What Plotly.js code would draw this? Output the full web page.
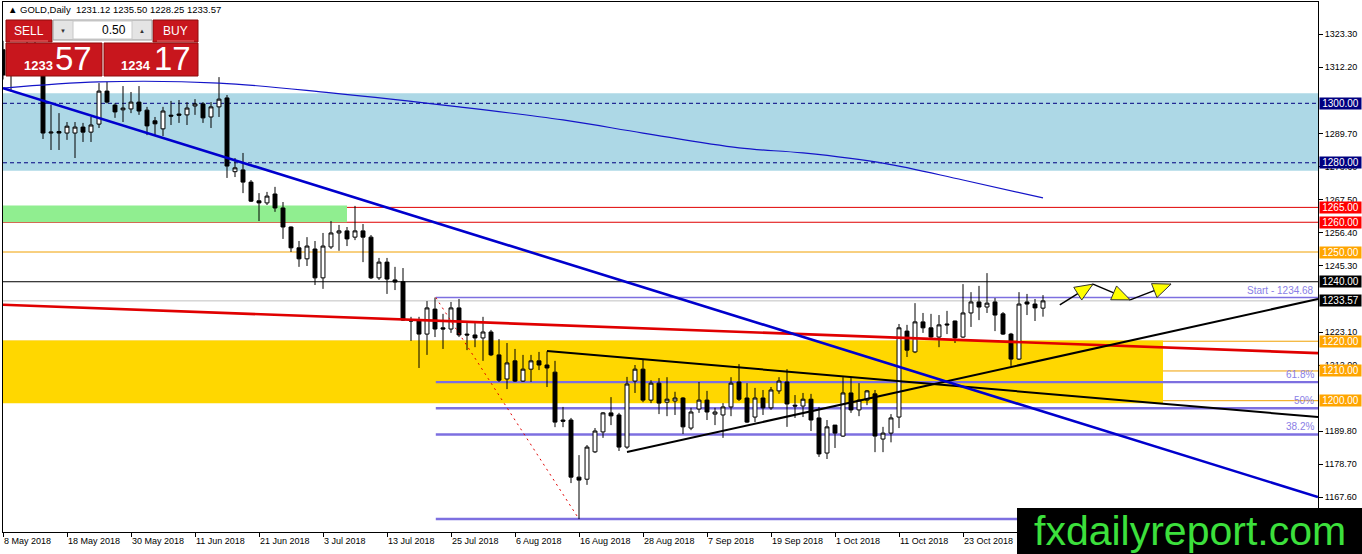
<!DOCTYPE html>
<html>
<head>
<meta charset="utf-8">
<script src="https://cdn.plot.ly/plotly-3.0.1.min.js"></script>
<style>
  html, body { margin: 0; padding: 0; background: #fff; }
  #chart { width: 1362px; height: 554px; }
</style>
</head>
<body>
<div id="chart"></div>
<script>
// GOLD daily, 8 May 2018 .. 6 Nov 2018 (bar index 0..130)
const openP = [1318,1309.5,1312,1315,1319,1313,1290,1290.5,1290,1290,1292,1290.3,1293,1304.1,1299.4,1297.8,1298.1,1300.4,1297.7,1294.1,
  1291.4,1296.0,1296.4,1296.1,1299.1,1299.8,1295.4,1298.8,1301.8,1277.0,1277.6,1273.5,1267.2,1266.5,1269.5,1264.8,1258.4,1251.4,1247.7,1251.0,
  1241.3,1251.7,1256.4,1257.1,1255.0,1257.1,1255.0,1241.3,1246.6,1240.6,1240.0,1227.1,1227.1,1222.4,1230.8,1224.5,1224.1,1231.2,1222.4,1222.1,
  1221.1,1223.1,1215.4,1207.3,1213.4,1206.6,1210.6,1213.4,1212.0,1209.6,1193.5,1193.5,1174.3,1173.6,1182.8,1189.5,1195.9,1195.2,1184.4,1206.6,
  1210.6,1200.2,1205.9,1199.5,1199.9,1200.9,1190.8,1197.2,1200.2,1195.5,1195.2,1197.9,1206.3,1200.9,1194.5,1200.9,1197.6,1203.3,1206.3,1198.5,
  1198.2,1200.5,1194.2,1182.4,1191.8,1188.1,1202.6,1196.9,1200.2,1202.3,1187.1,1189.1,1194.5,1223.4,1216.4,1226.5,1224.5,1221.4,1225.8,1226.8,
  1221.4,1229.5,1233.2,1231.5,1233.2,1229.2,1222.4,1214.0,1233.2,1232.5,1231.12];
const highP = [1321,1316,1317,1322,1321,1316,1299.5,1296.7,1293.7,1293.7,1293.4,1295.4,1306.8,1307.2,1300,1305.8,1303.8,1305.8,1298.8,1295.4,
  1298.8,1300.8,1301.1,1300.4,1301.4,1300.4,1300.4,1308.8,1302.8,1281.6,1283.3,1274.2,1269.8,1270.2,1271.9,1266.8,1258.6,1253.7,1255.0,1253.7,
  1256.4,1260.4,1259.1,1258.4,1265.5,1259.4,1255.7,1248.0,1248.0,1245.0,1244.6,1228.2,1228.2,1233.5,1234.68,1229.2,1233.2,1234.2,1226.1,1226.1,
  1228.2,1223.8,1220.7,1219.4,1217.4,1215.4,1215.4,1216.4,1216.6,1213.4,1197.9,1194.2,1181.7,1185.1,1190.8,1196.2,1201.2,1195.9,1208.0,1212.0,
  1213.7,1206.9,1207.6,1207.9,1203.0,1201.2,1197.6,1206.3,1203.3,1197.6,1199.2,1207.9,1212.3,1205.9,1204.3,1203.6,1204.6,1207.9,1210.6,1201.9,
  1202.6,1202.3,1197.9,1193.5,1191.8,1207.9,1207.6,1205.9,1203.6,1203.6,1191.2,1195.5,1225.8,1225.5,1232.8,1229.5,1229.2,1228.8,1230.2,1226.9,
  1239.2,1236.5,1238.6,1242.9,1234.5,1229.8,1222.8,1236.5,1235.9,1234.2,1235.50];
const lowP = [1308,1304,1309.5,1312,1311,1288,1284.3,1284.3,1287.7,1281.6,1287,1287,1291.7,1300,1295.1,1293.7,1296.7,1296.1,1289.3,1289.3,
  1289,1292.7,1293.4,1292.7,1296.1,1293.4,1291.7,1295.4,1274.9,1275.2,1269.8,1266.8,1260.4,1265.8,1263.5,1254.4,1250.0,1245.0,1245.3,1238.9,
  1237.6,1251.0,1250.4,1252.0,1254.0,1246.6,1240.9,1240.6,1235.9,1237.2,1226.8,1220.1,1211.0,1215.4,1221.4,1217.4,1222.8,1221.4,1217.0,1218.0,
  1213.4,1215.0,1206.3,1203.9,1206.3,1206.3,1206.3,1210.3,1204.6,1191.1,1191.1,1172.3,1160.2,1171.7,1182.4,1187.5,1191.8,1183.1,1183.8,1202.6,
  1199.5,1199.2,1195.5,1194.8,1195.2,1188.8,1190.1,1195.9,1193.5,1191.8,1187.5,1194.8,1199.9,1192.5,1192.8,1195.2,1196.9,1202.3,1191.2,1194.2,
  1194.5,1189.8,1181.1,1180.4,1184.1,1187.8,1195.9,1194.8,1198.5,1182.7,1182.7,1186.0,1190.8,1214.7,1216.0,1222.8,1220.7,1218.0,1222.4,1219.4,
  1221.1,1224.8,1227.1,1229.5,1223.4,1222.1,1211.7,1213.7,1228.8,1226.8,1228.25];
const closeP = [1309.5,1313,1315,1319,1313,1290,1290.3,1290,1292.3,1292,1290.3,1292.7,1304.1,1300.4,1297.1,1298.4,1300.4,1297.4,1292.4,1293.1,
  1297.4,1295.7,1296.0,1298.4,1299.8,1295.1,1298.8,1301.4,1278.9,1278.3,1273.5,1267.1,1266.5,1268.8,1264.8,1258.4,1251.4,1247.7,1252.0,1241.3,
  1252.0,1256.4,1257.1,1254.4,1257.1,1255.0,1241.3,1246.6,1240.9,1239.9,1227.1,1226.8,1222.4,1231.2,1224.1,1224.1,1231.2,1222.1,1222.1,1221.1,
  1223.1,1215.4,1206.9,1212.7,1206.6,1210.6,1213.4,1212.0,1211.0,1192.8,1193.1,1174.3,1173.3,1184.4,1189.8,1195.9,1194.9,1184.4,1205.6,1210.6,
  1200.2,1205.9,1199.2,1200.5,1200.9,1191.2,1196.2,1200.2,1196.2,1196.2,1197.9,1205.9,1200.5,1192.8,1200.9,1197.6,1203.6,1206.6,1198.9,1198.2,
  1200.5,1193.5,1182.1,1191.2,1189.1,1202.6,1196.9,1200.2,1203.3,1188.1,1189.1,1194.2,1224.5,1217.0,1226.5,1224.5,1221.4,1225.5,1225.5,1221.1,
  1229.5,1233.2,1231.5,1232.8,1228.8,1222.4,1214.0,1232.5,1232.5,1231.2,1233.57];

// date labels on the time axis (bar index -> text)
const tickIdx = [0,8,16,24,32,40,48,56,64,72,80,88,96,104,112,120];
const tickText = ['8 May 2018','18 May 2018','30 May 2018','11 Jun 2018','21 Jun 2018','3 Jul 2018','13 Jul 2018','25 Jul 2018',
  '6 Aug 2018','16 Aug 2018','28 Aug 2018','7 Sep 2018','19 Sep 2018','1 Oct 2018','11 Oct 2018','23 Oct 2018'];
// price scale labels (those fully hidden under level boxes left out)
const priceTicks = [1323.3,1312.2,1289.7,1278.6,1267.5,1256.4,1245.3,1223.1,1212.0,1189.8,1178.7,1167.6];

// moving average
const maIdx = [0,12,27,41,57,70,80,92,100,110,120,130];
const maVal = [1305.1,1307.2,1306.8,1303.5,1298.8,1294.4,1290.0,1285.0,1283.3,1279.9,1274.2,1268.2];

// zones and levels
const zoneBlue = [1277.3, 1303.4];
const zoneGreen = [1260.0, 1265.6];
const zoneGreenEnd = 43;
const zoneGold = [1199.1, 1220.2];
const zoneGoldEnd = 145;
const navyLevels = [1300, 1280];
const redLevels = [1265, 1260];
const orangeLevels = [1250, 1220, 1210, 1200];
const blackLevels = [1240];
const lastPrice = 1233.57;

// fibonacci
const fibHigh = 1234.68, fibLow = 1160.2;
const fibStartIdx = 54.1, fibLowIdx = 72;
const fibRatios = [0.382, 0.5, 0.618];

// trend lines (bar index, price)
const X_END = 164.375;
const downX = [0, X_END], downY = [1305.1, 1167.6];
const redX = [0, X_END], redY = [1232.25, 1216.0];
const upperX = [68, X_END], upperY = [1216.7, 1194.5];
const lowerX = [78, X_END], lowerY = [1182.75, 1234.2];

// forecast arrows
const arrowX = [132.1, 136.25, 140.9, 146.0];
const arrowY = [1232.2, 1239.2, 1233.9, 1239.2];

// ---------------------------------------------------------------
const W = 1362, H = 554;
const M = {l: 3, r: 44, t: 2, b: 22};
const PW = W - M.l - M.r, PH = H - M.t - M.b;
const yRange = [1155.85, 1334.06];
const xRange = [0, X_END];
const kx = PW / (xRange[1] - xRange[0]);
const ky = PH / (yRange[1] - yRange[0]);
const px = x => (x - M.l) / PW;          // pixel -> paper
const py = y => 1 - (y - M.t) / PH;

const idx = openP.map((_, i) => i);
const FONT = 'Liberation Sans, Arial, sans-serif';

const traces = [
  {
    type: 'candlestick', x: idx, open: openP, high: highP, low: lowP, close: closeP,
    increasing: {line: {color: '#000', width: 1}, fillcolor: '#fff'},
    decreasing: {line: {color: '#000', width: 1}, fillcolor: '#000'},
    whiskerwidth: 0, hoverinfo: 'skip', showlegend: false
  },
  {type: 'scatter', mode: 'lines', x: maIdx, y: maVal, line: {color: '#1414c8', width: 1.2, shape: 'spline'}, hoverinfo: 'skip'},
  {type: 'scatter', mode: 'lines', x: redX, y: redY, line: {color: '#e00000', width: 2.6}, hoverinfo: 'skip'},
  {type: 'scatter', mode: 'lines', x: upperX, y: upperY, line: {color: '#000', width: 2}, hoverinfo: 'skip'},
  {type: 'scatter', mode: 'lines', x: lowerX, y: lowerY, line: {color: '#000', width: 2}, hoverinfo: 'skip'},
  {type: 'scatter', mode: 'lines', x: downX, y: downY, line: {color: '#0000cd', width: 2.6}, hoverinfo: 'skip'},
  {type: 'scatter', mode: 'lines', x: [fibStartIdx, fibLowIdx], y: [fibHigh, fibLow],
   line: {color: '#e00000', width: 1, dash: '2px,4px'}, hoverinfo: 'skip'}
];

const shapes = [];
const hline = (p, color, width, dash) => shapes.push({type: 'line', xref: 'paper', x0: 0, x1: 1, yref: 'y', y0: p, y1: p,
  line: {color, width, dash: dash || 'solid'}, layer: 'below'});

shapes.push({type: 'rect', xref: 'paper', x0: 0, x1: 1, yref: 'y', y0: zoneBlue[0], y1: zoneBlue[1],
  fillcolor: '#add8e6', line: {width: 0}, layer: 'below'});
shapes.push({type: 'rect', xref: 'x', x0: 0, x1: zoneGreenEnd, yref: 'y', y0: zoneGreen[0], y1: zoneGreen[1],
  fillcolor: '#90ee90', line: {width: 0}, layer: 'below'});
shapes.push({type: 'rect', xref: 'x', x0: 0, x1: zoneGoldEnd, yref: 'y', y0: zoneGold[0], y1: zoneGold[1],
  fillcolor: '#ffd700', line: {width: 0}, layer: 'below'});
navyLevels.forEach(p => hline(p, '#000080', 1, '4px,3px'));
redLevels.forEach(p => hline(p, '#e00000', 1));
orangeLevels.forEach(p => hline(p, '#f0a000', 1));
blackLevels.forEach(p => hline(p, '#000', 1));
hline(lastPrice, '#c0c0c0', 1);

// fib levels
const fibLine = (p, w) => shapes.push({type: 'line', xref: 'x', x0: fibStartIdx, x1: X_END, yref: 'y', y0: p, y1: p,
  line: {color: '#7d6fe0', width: w}, layer: 'below'});
fibLine(fibHigh, 1.5);
fibLine(fibLow, 2.4);
fibRatios.forEach(r => fibLine(fibLow + r * (fibHigh - fibLow), 2.4));

// arrows: black shaft + yellow head
for (let i = 0; i < arrowX.length - 1; i++) {
  const x0 = arrowX[i], y0 = arrowY[i], x1 = arrowX[i + 1], y1 = arrowY[i + 1];
  shapes.push({type: 'line', xref: 'x', yref: 'y', x0, y0, x1, y1, line: {color: '#000', width: 1.5}, layer: 'above'});
  const dx = (x1 - x0) * kx, dy = (y1 - y0) * ky, len = Math.hypot(dx, dy);
  const ux = dx / len, uy = dy / len, L = 18, hw = 7.5;
  const bx = x1 - L * ux / kx, by = y1 - L * uy / ky;
  const nx = -uy, ny = ux;
  const p1 = [bx + hw * nx / kx, by + hw * ny / ky], p2 = [bx - hw * nx / kx, by - hw * ny / ky];
  shapes.push({type: 'path', xref: 'x', yref: 'y', layer: 'above',
    path: `M ${x1} ${y1} L ${p1[0]} ${p1[1]} L ${p2[0]} ${p2[1]} Z`,
    fillcolor: '#ffff00', line: {color: '#333', width: 1}});
}

// trading panel
const box = (x0, y0, x1, y1, fill, border) => shapes.push({type: 'rect', xref: 'paper', yref: 'paper',
  x0: px(x0), x1: px(x1), y0: py(y1), y1: py(y0), fillcolor: fill, line: {color: border, width: 1}, layer: 'above'});
box(6, 20, 52, 42, '#c8161d', '#8e0c0c');
box(6, 43, 102, 76, '#c8161d', '#8e0c0c');
box(153, 20, 198, 42, '#c8161d', '#8e0c0c');
box(104, 43, 198, 76, '#c8161d', '#8e0c0c');
box(53, 20, 152, 40, '#e4e4e4', '#9a9a9a');
box(73, 21, 132, 39, '#ffffff', '#c8c8c8');
[[10, 48], [157, 194]].forEach(([a, b]) => shapes.push({type: 'line', xref: 'paper', yref: 'paper',
  x0: px(a), x1: px(b), y0: py(41), y1: py(41), line: {color: '#e87070', width: 1}, layer: 'above'}));

// watermark
shapes.push({type: 'rect', xref: 'paper', yref: 'paper', x0: px(1017), x1: px(1362), y0: py(554), y1: py(508),
  fillcolor: '#000', line: {width: 0}, layer: 'above'});

const ann = [];
const txt = (x, y, text, size, color, xanchor, extra) => ann.push(Object.assign({xref: 'paper', yref: 'paper',
  x: px(x), y: py(y), text, showarrow: false, xanchor: xanchor || 'left', yanchor: 'middle',
  font: {family: FONT, size, color}}, extra || {}));

txt(6, 10, '▲ GOLD,Daily  1231.12 1235.50 1228.25 1233.57', 9.5, '#000');
txt(29, 31, 'SELL', 12, '#fff', 'center');
txt(175, 31, 'BUY', 12, '#fff', 'center');
txt(128, 30, '0.50', 12, '#000', 'right');
txt(63, 31, '▼', 6, '#333', 'center');
txt(142, 31, '▲', 6, '#333', 'center');
txt(22, 66, '<b>1233</b>', 13, '#fff');
txt(53, 59, '57', 33, '#fff');
txt(119, 66, '<b>1234</b>', 13, '#fff');
txt(152, 59, '17', 33, '#fff');
txt(1190, 531, 'fxdailyreport.com', 41, '#3ce03c', 'center');

// price boxes on the right scale
const priceBox = (p, bg) => ann.push({xref: 'paper', yref: 'y', x: 1, y: p, xanchor: 'left', yanchor: 'middle',
  xshift: 1, text: p.toFixed(2), showarrow: false, bgcolor: bg, width: 41, height: 11, borderpad: 0,
  font: {family: FONT, size: 10, color: '#fff'}});
navyLevels.forEach(p => priceBox(p, '#000080'));
redLevels.forEach(p => priceBox(p, '#ff0000'));
orangeLevels.forEach(p => priceBox(p, '#ffa500'));
blackLevels.forEach(p => priceBox(p, '#000'));
priceBox(lastPrice, '#000');

// fibo labels
const fibLabel = (p, text) => ann.push({xref: 'paper', yref: 'y', x: 1, y: p, xanchor: 'right', yanchor: 'bottom',
  xshift: -2, yshift: 0, text, showarrow: false, font: {family: FONT, size: 10, color: '#8a80e6'}});
fibLabel(fibHigh, 'Start - ' + fibHigh.toFixed(2));
fibRatios.forEach(r => fibLabel(fibLow + r * (fibHigh - fibLow), (r * 100).toFixed(1).replace('.0', '') + '%'));

const layout = {
  width: W, height: H,
  margin: M,
  paper_bgcolor: '#fff', plot_bgcolor: '#fff',
  showlegend: false,
  font: {family: FONT, size: 9, color: '#000'},
  xaxis: {
    range: xRange, rangeslider: {visible: false}, showgrid: false, zeroline: false,
    showline: true, linecolor: '#000', linewidth: 1, mirror: true,
    tickmode: 'array', tickvals: tickIdx, ticktext: tickText,
    ticks: 'outside', ticklen: 4, tickcolor: '#000', ticklabelposition: 'outside right',
    tickfont: {family: FONT, size: 9, color: '#000'}
  },
  yaxis: {
    range: yRange, side: 'right', showgrid: false, zeroline: false,
    showline: true, linecolor: '#000', linewidth: 1, mirror: true,
    tickmode: 'array', tickvals: priceTicks, ticktext: priceTicks.map(v => v.toFixed(2)),
    ticks: 'outside', ticklen: 4, tickcolor: '#000',
    tickfont: {family: FONT, size: 9, color: '#000'}
  },
  shapes, annotations: ann
};

Plotly.newPlot('chart', traces, layout, {staticPlot: true, displayModeBar: false});
</script>
</body>
</html>
